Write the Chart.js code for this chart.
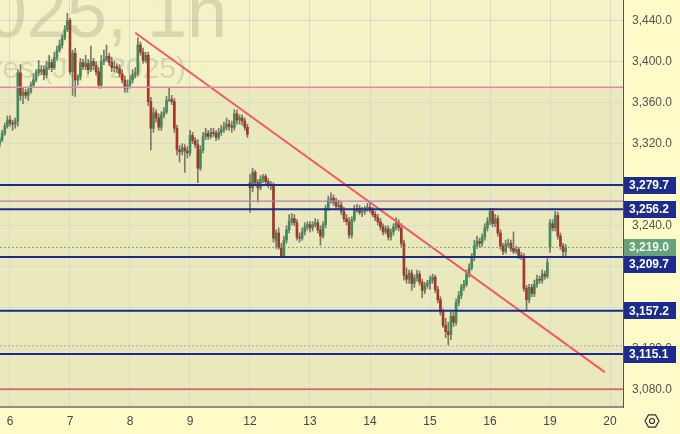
<!DOCTYPE html>
<html>
<head>
<meta charset="utf-8">
<script src="https://cdn.jsdelivr.net/npm/chart.js@4.4.1/dist/chart.umd.min.js"></script>
<style>
  html, body { margin: 0; padding: 0; background: #fefbc9; }
  canvas { display: block; }
</style>
</head>
<body>
<canvas id="chart" width="680" height="434"></canvas>
<script>

/* =========================
   DATA (hourly candles, [open, high, low, close])
========================= */

const ohlc = [
  [3319,3326,3316,3324],[3324,3333,3322,3330],[3330,3340,3328,3337],[3337,3347,3335,3343],
  // 6
  [3343,3347,3337,3340],[3340,3343,3333,3339],[3339,3345,3335,3342],[3342,3392,3337,3389],
  [3389,3397,3362,3367],[3367,3374,3359,3370],[3370,3373,3364,3367],[3367,3374,3362,3371],
  [3371,3380,3369,3377],[3377,3388,3375,3382],[3382,3392,3380,3389],[3389,3401,3386,3392],
  [3390,3396,3387,3392],[3392,3396,3382,3387],[3387,3400,3384,3394],[3394,3406,3392,3399],
  [3399,3402,3390,3394],[3394,3409,3392,3404],[3404,3415,3401,3411],[3411,3421,3409,3416],
  [3416,3426,3413,3423],[3423,3435,3421,3431],[3431,3447,3429,3440],
  // 7
  [3440,3442,3388,3390],[3390,3411,3367,3408],[3408,3413,3366,3382],[3382,3387,3377,3385],
  [3385,3403,3382,3399],[3399,3402,3392,3395],[3395,3406,3392,3398],[3398,3402,3388,3392],
  [3392,3415,3390,3400],[3400,3403,3392,3396],[3396,3400,3387,3390],[3390,3394,3374,3377],
  [3377,3406,3374,3400],[3400,3411,3397,3402],[3402,3416,3400,3405],[3405,3408,3396,3399],
  [3399,3404,3390,3394],[3394,3400,3390,3395],[3395,3398,3389,3393],[3393,3397,3385,3388],
  [3388,3392,3379,3382],[3382,3386,3370,3374],[3374,3382,3370,3377],
  // 8
  [3377,3386,3374,3382],[3382,3392,3379,3387],[3387,3394,3384,3389],[3389,3423,3386,3416],
  [3416,3419,3406,3409],[3409,3413,3398,3401],[3401,3409,3399,3406],[3406,3409,3357,3361],
  [3361,3365,3314,3335],[3335,3355,3331,3350],[3350,3353,3341,3345],[3345,3349,3333,3336],
  [3336,3351,3333,3348],[3348,3355,3345,3351],[3351,3366,3349,3362],[3362,3375,3361,3363],
  [3363,3367,3358,3361],[3361,3364,3331,3335],[3335,3338,3309,3314],[3314,3318,3302,3312],
  [3312,3320,3309,3316],[3316,3319,3292,3313],[3313,3317,3306,3311],
  // 9
  [3311,3333,3308,3328],[3328,3331,3320,3323],[3323,3326,3316,3319],[3319,3324,3282,3296],
  [3296,3318,3294,3314],[3314,3331,3311,3327],[3327,3335,3324,3330],[3330,3333,3324,3327],
  [3327,3335,3325,3331],[3331,3335,3327,3330],[3330,3333,3323,3326],[3326,3335,3324,3331],
  [3331,3338,3328,3334],[3334,3341,3331,3336],[3336,3345,3333,3339],[3339,3343,3333,3337],
  [3337,3342,3331,3336],[3336,3353,3333,3349],[3349,3353,3339,3343],[3343,3348,3339,3345],
  [3345,3348,3338,3342],[3342,3345,3333,3336],[3336,3339,3326,3329],
  // 12
  [3282,3290,3253,3277],[3277,3296,3273,3292],[3292,3294,3279,3282],[3282,3285,3263,3277],
  [3277,3289,3275,3285],[3285,3290,3282,3288],[3288,3290,3280,3283],[3283,3286,3277,3280],
  [3280,3283,3275,3279],[3279,3282,3224,3228],[3226,3236,3218,3233],[3233,3238,3217,3219],
  [3219,3223,3209,3211],[3211,3230,3209,3226],[3226,3240,3223,3236],[3236,3251,3233,3244],
  [3244,3252,3241,3247],[3247,3251,3240,3243],[3243,3246,3226,3229],[3229,3233,3224,3228],
  [3228,3238,3226,3234],[3234,3243,3231,3239],[3239,3244,3236,3241],
  // 13
  [3241,3244,3234,3238],[3238,3244,3235,3241],[3241,3247,3239,3243],[3243,3246,3233,3236],
  [3236,3240,3221,3230],[3230,3244,3228,3241],[3241,3260,3238,3257],[3257,3269,3255,3265],
  [3265,3272,3262,3267],[3267,3270,3260,3263],[3263,3267,3256,3259],[3259,3265,3256,3260],
  [3260,3263,3251,3254],[3254,3258,3244,3247],[3247,3251,3241,3244],[3244,3248,3228,3231],
  [3231,3249,3228,3246],[3246,3260,3244,3255],[3255,3261,3253,3257],[3257,3260,3251,3253],
  [3253,3258,3249,3254],[3254,3259,3251,3256],[3256,3262,3254,3258],
  // 14
  [3258,3262,3253,3255],[3255,3258,3249,3251],[3251,3254,3245,3248],[3248,3251,3241,3244],
  [3244,3247,3236,3239],[3239,3242,3231,3234],[3234,3240,3232,3237],[3237,3240,3226,3229],
  [3229,3237,3226,3234],[3234,3242,3231,3239],[3239,3248,3236,3243],[3243,3246,3235,3238],
  [3238,3242,3220,3223],[3223,3226,3187,3192],[3192,3199,3184,3188],[3188,3197,3184,3194],
  [3194,3197,3177,3184],[3184,3192,3180,3189],[3189,3197,3186,3193],[3193,3196,3182,3185],
  [3185,3188,3170,3177],[3177,3185,3174,3182],[3182,3187,3179,3184],
  // 15
  [3184,3191,3178,3187],[3187,3193,3184,3190],[3190,3192,3175,3178],[3178,3181,3165,3168],
  [3168,3171,3153,3156],[3156,3159,3141,3143],[3143,3150,3131,3137],[3137,3146,3124,3134],
  [3134,3156,3129,3152],[3152,3156,3142,3146],[3146,3169,3143,3165],[3165,3176,3162,3172],
  [3172,3183,3169,3180],[3180,3187,3177,3183],[3183,3197,3181,3193],[3193,3203,3190,3199],
  [3199,3213,3197,3209],[3209,3226,3206,3221],[3221,3230,3218,3225],[3225,3228,3219,3223],
  [3223,3232,3220,3229],[3229,3242,3226,3238],[3238,3248,3235,3244],
  // 16
  [3244,3257,3241,3254],[3254,3257,3239,3242],[3242,3251,3239,3247],[3247,3250,3230,3233],
  [3233,3236,3217,3220],[3220,3223,3212,3215],[3215,3226,3213,3222],[3222,3227,3219,3223],
  [3223,3226,3215,3218],[3218,3234,3213,3215],[3215,3220,3213,3217],[3217,3219,3208,3211],
  [3211,3214,3207,3210],[3210,3213,3176,3179],[3179,3182,3158,3168],[3168,3183,3165,3180],
  [3180,3183,3171,3174],[3174,3187,3171,3183],[3183,3192,3180,3188],[3188,3191,3184,3187],
  [3187,3197,3184,3193],[3193,3196,3188,3191],[3191,3208,3189,3204],
  // 19
  [3219,3246,3214,3243],[3242,3246,3235,3238],[3238,3254,3235,3250],[3250,3253,3227,3230],
  [3230,3233,3217,3220],[3220,3223,3210,3215],[3215,3222,3210,3219]
];

const dayLabels = ['6', '7', '8', '9', '12', '13', '14', '15', '16', '19', '20'];
const dayStarts = [4, 27, 50, 73, 96, 119, 142, 165, 188, 211, 234];

const priceTicks = [3080, 3120, 3160, 3200, 3240, 3280, 3320, 3360, 3400, 3440];

const blueLevels = [3279.7, 3256.2, 3209.7, 3157.2, 3115.1];
const lastPrice = 3219.0;
const pinkLevel = 3375;
const purpleLevel = 3264;
const redLevel = 3081;
const grayDotLevel = 3123;

const trendLine = [ { x: 52, y: 3428 }, { x: 232, y: 3097.5 } ];

const xMin = 0.17, xMax = 238.98;
const yMin = 3063.56, yMax = 3459.86;

/* =========================
   STYLE
========================= */

const FONT = 'Liberation Sans, Arial, sans-serif';
const UP = '#3f8c5c';
const DOWN = '#a8352a';
const NAVY = '#1b2b8e';
const GRID = '#d7dccf';

Chart.defaults.font.family = FONT;
Chart.defaults.font.size = 12;

function fmt(v){
    return v.toLocaleString('en-US', { minimumFractionDigits: 1, maximumFractionDigits: 1 });
}

function hline(price, color, width, dash){
    return {
        type: 'line',
        data: [ { x: xMin, y: price }, { x: xMax, y: price } ],
        borderColor: color,
        borderWidth: width,
        borderDash: dash || [],
        pointRadius: 0,
        order: 0
    };
}

/* =========================
   PLUGINS
========================= */

const backdrop = {
    id: 'backdrop',
    beforeDraw(chart){
        const { ctx, chartArea: a, scales } = chart;
        ctx.save();
        ctx.fillStyle = '#fefbc9';
        ctx.fillRect(0, 0, chart.width, chart.height);
        const yp = scales.y.getPixelForValue(pinkLevel);
        ctx.fillStyle = '#f3f3c5';
        ctx.fillRect(a.left, a.top, a.right - a.left, yp - a.top);
        ctx.fillStyle = '#e9e9bb';
        ctx.fillRect(a.left, yp, a.right - a.left, a.bottom - yp);
        ctx.restore();
    },
    beforeDatasetsDraw(chart){
        const { ctx, chartArea: a } = chart;
        ctx.save();
        ctx.beginPath();
        ctx.rect(a.left, a.top, a.right - a.left, a.bottom - a.top);
        ctx.clip();
        ctx.fillStyle = 'rgba(120,120,90,0.22)';
        ctx.textAlign = 'right';
        ctx.textBaseline = 'alphabetic';
        ctx.font = '72px ' + FONT;
        ctx.fillText('GCM2025, 1h', 227, 37);
        ctx.font = '30px ' + FONT;
        ctx.fillText('Gold Futures (Jun 2025)', 186, 78);
        ctx.restore();
    },
    afterDraw(chart){
        const { ctx, scales } = chart;
        const boxes = blueLevels.map(p => ({ p, bg: NAVY, fg: '#ffffff' }));
        boxes.push({ p: lastPrice, bg: '#66a37a', fg: '#eef6ea' });
        boxes.forEach(b => b.y = scales.y.getPixelForValue(b.p));
        boxes.sort((a, b) => a.y - b.y);
        for (let i = 1; i < boxes.length; i++){
            if (boxes[i].y - boxes[i - 1].y < 17) boxes[i].y = boxes[i - 1].y + 17;
        }
        ctx.save();
        ctx.font = 'bold 12px ' + FONT;
        ctx.textBaseline = 'middle';
        ctx.textAlign = 'left';
        boxes.forEach(b => {
            ctx.fillStyle = b.bg;
            ctx.fillRect(624, Math.round(b.y - 8.5), 52, 17);
            ctx.fillStyle = b.fg;
            ctx.fillText(fmt(b.p), 629, b.y + 0.5);
        });

        // settings icon
        const cx = 652, cy = 421, r = 7;
        ctx.strokeStyle = '#333';
        ctx.lineWidth = 1.2;
        ctx.beginPath();
        for (let k = 0; k < 6; k++){
            const ang = Math.PI / 3 * k;
            const px = cx + r * Math.cos(ang), py = cy + r * Math.sin(ang);
            if (k === 0) ctx.moveTo(px, py); else ctx.lineTo(px, py);
        }
        ctx.closePath();
        ctx.stroke();
        ctx.beginPath();
        ctx.arc(cx, cy, 2.5, 0, Math.PI * 2);
        ctx.stroke();
        ctx.restore();
    }
};

/* =========================
   CHART
========================= */

const ctx = document.getElementById('chart');

new Chart(ctx, {

    type: 'bar',

    data: {
        datasets: [
            hline(pinkLevel, '#e585ab', 1.5),
            hline(purpleLevel, '#b878c8', 1.2),
            hline(redLevel, '#d83a3a', 1.2),
            hline(grayDotLevel, '#a8a898', 1, [2, 2]),
            hline(lastPrice, '#6fa886', 1, [2, 2]),
            ...blueLevels.map(p => hline(p, NAVY, 2)),
            {
                type: 'line',
                data: trendLine,
                borderColor: '#f25a6c',
                borderWidth: 2,
                pointRadius: 0,
                order: 0
            },
            {
                data: ohlc.map((r, i) => ({ x: i, y: [r[0], r[3]] })),
                backgroundColor: ohlc.map(r => r[3] >= r[0] ? UP : DOWN),
                barThickness: 2,
                minBarLength: 1,
                grouped: false,
                order: 1
            },
            {
                data: ohlc.map((r, i) => ({ x: i, y: [r[2], r[1]] })),
                backgroundColor: '#7a7a6c',
                barThickness: 1,
                grouped: false,
                order: 2
            }
        ]
    },

    options: {
        responsive: false,
        devicePixelRatio: 1,
        animation: false,
        layout: { padding: 0 },
        plugins: {
            legend: { display: false },
            tooltip: { enabled: false }
        },
        scales: {
            x: {
                type: 'linear',
                position: 'bottom',
                min: xMin,
                max: xMax,
                offset: false,
                grid: { color: GRID, offset: false, drawTicks: false },
                border: { display: true, color: '#8e8e84', width: 2 },
                ticks: {
                    autoSkip: false,
                    maxRotation: 0,
                    padding: 7,
                    color: '#474747',
                    callback: v => dayLabels[dayStarts.indexOf(v)]
                },
                afterBuildTicks: s => { s.ticks = dayStarts.map(v => ({ value: v })); },
                afterFit: s => {
                    s.height = 27;
                    s.paddingLeft = 0; s.paddingRight = 0;
                    s.paddingTop = 0; s.paddingBottom = 0;
                }
            },
            y: {
                type: 'linear',
                position: 'right',
                min: yMin,
                max: yMax,
                grid: { color: GRID, drawTicks: false },
                border: { display: true, color: '#555555' },
                ticks: {
                    padding: 9,
                    color: '#555555',
                    callback: v => fmt(v)
                },
                afterBuildTicks: s => { s.ticks = priceTicks.map(v => ({ value: v })); },
                afterFit: s => {
                    s.width = 57;
                    s.paddingLeft = 0; s.paddingRight = 0;
                    s.paddingTop = 0; s.paddingBottom = 0;
                }
            }
        }
    },

    plugins: [backdrop]

});

</script>
</body>
</html>
